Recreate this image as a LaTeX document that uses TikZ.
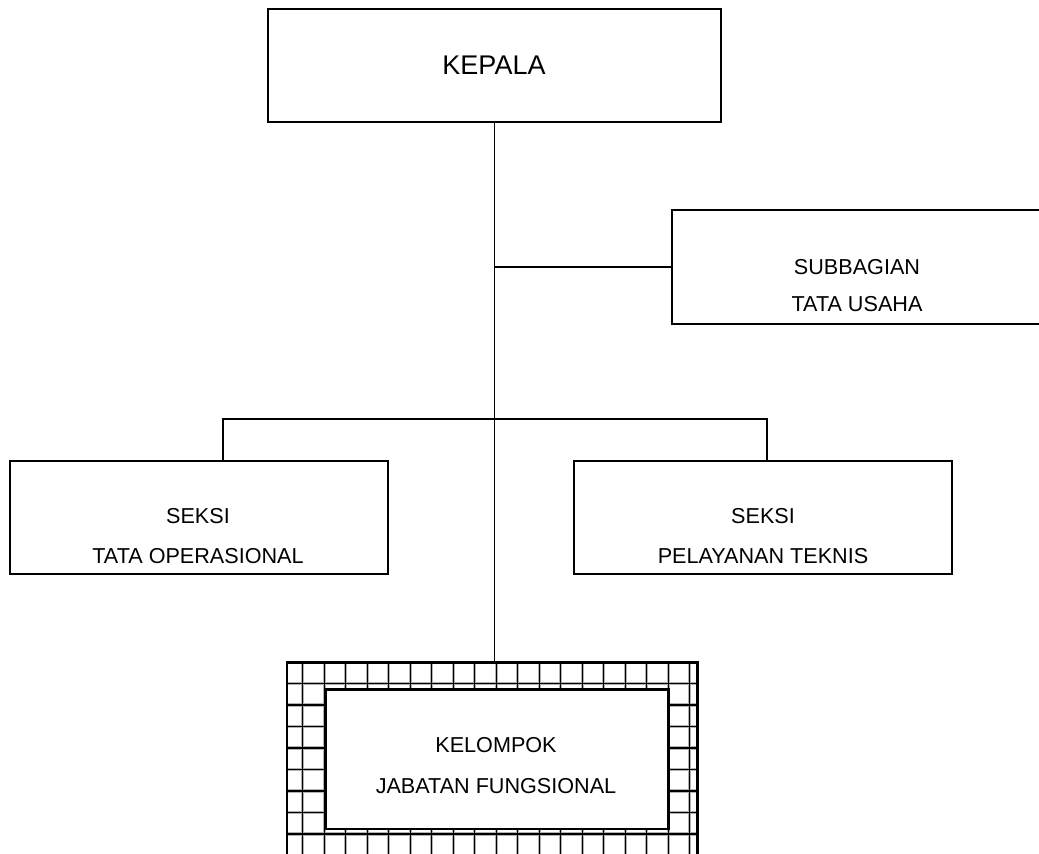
\documentclass[tikz,border=0pt]{standalone}
\usepackage{fontspec}
\setmainfont{Liberation Sans}
\begin{document}
\begin{tikzpicture}[x=1pt,y=-1pt,
  box/.style={draw=black,line width=1.6pt,fill=white,inner sep=0pt,anchor=north west},
  lbl/.style={align=center,anchor=base,inner sep=0pt,font=\fontsize{21.6}{40}\selectfont},
  conn/.style={draw=black,line width=1.6pt},
  gridhalo/.style={draw=black!30,line width=3.2pt},
  gridline/.style={draw=black,line width=1.3pt}]
\useasboundingbox (0,0) rectangle (1039,854);
\clip (0,0) rectangle (1039,854);
\fill[white] (0,0) rectangle (1039,854);

% boxes
\node[box,minimum width=453pt,minimum height=113pt] (kepala) at (267,8) {};
\node[box,minimum width=371pt,minimum height=114pt] (sub) at (671,209) {};
\node[box,minimum width=378pt,minimum height=113pt] (op) at (9,460) {};
\node[box,minimum width=378pt,minimum height=113pt] (pel) at (573,460) {};

% grid frame of the functional group
\node[inner sep=0pt,anchor=north west,minimum width=410pt,minimum height=240pt] (kjouter) at (287,662.5) {};
\begin{scope}
  \clip (kjouter.north west) rectangle (kjouter.south east);
  \foreach \k in {0,...,18} {
    \draw[gridhalo] (302.7+21.5*\k,662.5) -- ++(0,240);
  }
  \foreach \k in {0,...,8} {
    \draw[gridhalo] (287,683.5+21.5*\k) -- ++(410,0);
  }
  \foreach \k in {0,...,18} {
    \draw[gridline] (302.7+21.5*\k,662.5) -- ++(0,240);
  }
  \foreach \k in {0,...,8} {
    \draw[gridline] (287,683.5+21.5*\k) -- ++(410,0);
  }
\end{scope}
\draw[black,line width=2.2pt] (kjouter.south west) -- (kjouter.north west) -- (kjouter.north east) -- (kjouter.south east);
\node[box,line width=2.8pt,minimum width=343pt,minimum height=139.5pt] (kj) at (324,688) {};

% texts (anchor = baseline of the last line)
\node[font=\fontsize{27}{30}\selectfont,anchor=base,inner sep=0pt] (tkepala) at (494,74) {KEPALA};
\node[lbl,font=\fontsize{21.6}{37}\selectfont] (tsub) at (857,311) {SUBBAGIAN\\TATA USAHA};
\node[lbl] (top) at (198,563) {SEKSI\\TATA OPERASIONAL};
\node[lbl] (tpel) at (763,563) {SEKSI\\PELAYANAN TEKNIS};
\node[lbl,font=\fontsize{21.6}{41}\selectfont] (tkj) at (496,793) {KELOMPOK\\JABATAN FUNGSIONAL};

% connectors
\coordinate (jsub) at (494,267);
\coordinate (jbar) at (494,419);
\draw[conn] (kepala.south) -- (kjouter.north -| kepala.south);
\draw[conn] (jsub) -- (sub.west |- jsub);
\draw[conn] (op.north -| 223,0) |- (jbar);
\draw[conn] (pel.north -| 767,0) |- (jbar);
\end{tikzpicture}
\end{document}
